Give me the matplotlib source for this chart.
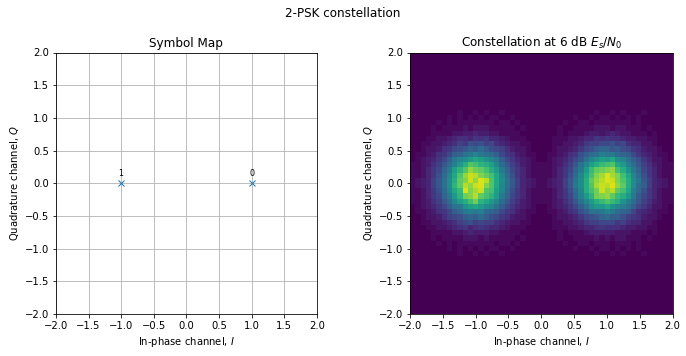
#!/usr/bin/env python3
"""2-PSK symbol map and received constellation"""

import numpy as np
import matplotlib
matplotlib.use('Agg')
import matplotlib.pyplot as plt

symbols_i = [1.0, -1.0]
symbols_q = [0.0, 0.0]
symbol_labels = ['0', '1']
ticks = [-2.0, -1.5, -1.0, -0.5, 0.0, 0.5, 1.0, 1.5, 2.0]

# Histogram counts, base 36 digit per bin, top row first
empty_row = '0' * 50
hist_rows = [empty_row] * 11 + [
    '0000000001001010010000000' + '0000000000100101000100000',
    '0000000101010101100100000' + '0000001001011010101000000',
    '0000010101111111011010000' + '0000100110111111101000000',
    '0000101111212221111101000' + '0001001111222122111010000',
    '0000111122334332211110000' + '0001011123323432211101000',
    '0001122345546564432111000' + '0011122344656554332211000',
    '0011223457698978543221100' + '0011223467788978544221000',
    '0012235689acbdb9875322100' + '0012234689bccab9865322100',
    '01123568bcefhfedb86532110' + '01123569bdegffdcb86432110',
    '0123468bfhikmljhfb8643210' + '0123468aehjlkmiheb9642210',
    '112357adgknrqonlhda753211' + '112357aehlnpqrmkgda753211',
    '112468cflorvtsqnkfc864211' + '112468cfkpstuvqnjfc864211',
    '112469dhmrvyxusqmhd964211' + '112469dhmquwzwuqmhd964211',
    '12347aeinsuyvzxrmiea74321' + '12347aeinsvxzyurnifa74321',
    '12347aeiosxvyzurmhea74321' + '12347afinrwyxzvsnidb74321',
    '112469dhmpzuwyrqlhd964211' + '112469dhnqtyvxsqmgd964211',
    '112468cfkotuxsqokfc864211' + '112468cgkotuvspnkfb864211',
    '112357adhlnqtomkhda753211' + '112357aehknprpnjgda753211',
    '0123468befjlmkiheb8643210' + '0123468beikkmjhgeb8642210',
    '01123568bdfgfgdcb86532110' + '01123569beefhfdcb85432110',
    '0012235789bcbdb9865322100' + '0012234689acdbb9765322100',
    '0011223457897877543221100' + '0011223467788867544221000',
    '0001122345645654432111000' + '0011122344565554332211000',
    '0000111122343332211110000' + '0001011123333322211101000',
    '0000101111222121111101000' + '0001001111212122111010000',
    '0000010101111111011010000' + '0000100110111011101000000',
    '0000000101010101100100000' + '0000001001011010101000000',
    '0000000001001010010000000' + '0000000000100101000100000',
] + [empty_row] * 11


def setup_axes(ax, title):
    ax.set_xlim(-2, 2)
    ax.set_ylim(-2, 2)
    ax.set_xticks(ticks)
    ax.set_yticks(ticks)
    ax.set_title(title)
    ax.set_xlabel('In-phase channel, $I$')
    ax.set_ylabel('Quadrature channel, $Q$')


def main():
    counts = np.array([[int(c, 36) for c in row] for row in hist_rows])

    fig = plt.figure(figsize=(686 / 72, 356 / 72), dpi=72)
    fig.suptitle('2-PSK constellation', fontsize=12, y=0.98)

    ax1 = fig.add_axes([55.9 / 686, 42.1 / 356, 261 / 686, 261.4 / 356])
    ax1.plot(symbols_i, symbols_q, 'x', color='C0')
    for x, y, label in zip(symbols_i, symbols_q, symbol_labels):
        ax1.annotate(label, (x, y), xytext=(0, 7), textcoords='offset points',
                     ha='center', fontsize=8)
    ax1.grid(True)
    setup_axes(ax1, 'Symbol Map')

    ax2 = fig.add_axes([410 / 686, 42.1 / 356, 262.6 / 686, 261.4 / 356])
    ax2.imshow(counts, extent=[-2, 2, -2, 2], aspect='auto',
               interpolation='nearest', cmap='viridis', vmin=0, vmax=37)
    setup_axes(ax2, 'Constellation at 6 dB $E_s/N_0$')

    fig.savefig('out.png', dpi=72)


if __name__ == '__main__':
    main()
